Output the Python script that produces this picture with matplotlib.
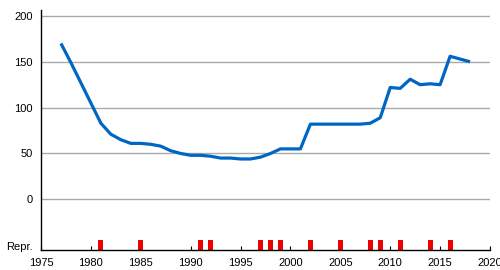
import matplotlib
matplotlib.use("Agg")
import matplotlib.pyplot as plt

plt.rcParams['font.family'] = ['Liberation Sans', 'DejaVu Sans']

# 数据
years = list(range(1977, 2019))
values = [170, 149, 127, 105, 83, 71, 65, 61, 61, 60,
          58, 53, 50, 48, 48, 47, 45, 45, 44, 44,
          46, 50, 55, 55, 55, 82, 82, 82, 82, 82,
          82, 83, 89, 122, 121, 131, 125, 126, 125, 156,
          153, 150]
repr_years = [1981, 1985, 1991, 1992, 1997, 1998, 1999, 2002,
              2005, 2008, 2009, 2011, 2014, 2016]
x_ticks = [1975, 1980, 1985, 1990, 1995, 2000, 2005, 2010, 2015, 2020]
y_ticks = [0, 50, 100, 150, 200]

fig = plt.figure(figsize=(5, 2.7), dpi=100)
ax = fig.add_axes([0.082, 0.074, 0.898, 0.889])

# 网格线
for v in y_ticks:
    ax.axhline(v, color='#aaaaaa', linewidth=1, zorder=1)

ax.plot(years, values, color='#0066c4', linewidth=2.3,
        solid_joinstyle='round', solid_capstyle='butt', zorder=3)

# 红色标记
ax.bar(repr_years, [11] * len(repr_years), bottom=-55.3, width=0.5,
       color='#ee0000', zorder=2)

ax.set_xlim(1975, 2020)
ax.set_ylim(-55.3, 206.5)
ax.set_xticks(x_ticks)
ax.set_yticks(y_ticks + [-51])
ax.set_yticklabels([str(v) for v in y_ticks] + ['Repr.'])

for s in ['top', 'right']:
    ax.spines[s].set_visible(False)
ax.spines['left'].set_linewidth(1)
ax.spines['bottom'].set_linewidth(1)

ax.tick_params(axis='y', length=0, labelsize=8, pad=6)
ax.tick_params(axis='x', length=3, labelsize=8, pad=6, direction='in')

fig.savefig('out.png', dpi=100)
